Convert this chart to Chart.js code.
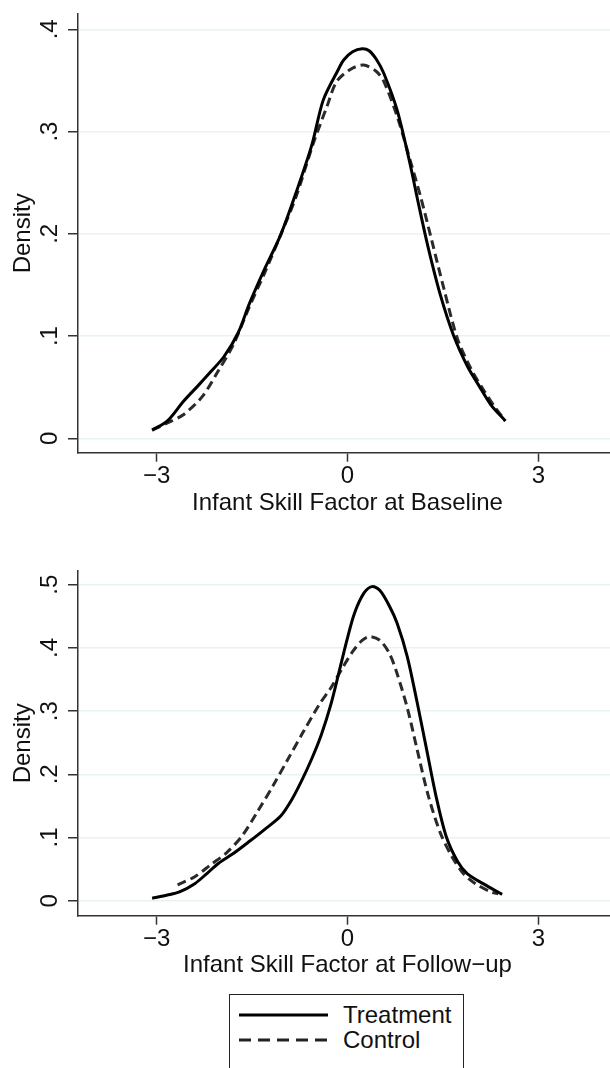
<!DOCTYPE html>
<html>
<head>
<meta charset="utf-8">
<script src="https://cdn.jsdelivr.net/npm/chart.js@4.4.0/dist/chart.umd.min.js"></script>
<style>
    body { margin: 0; background: #fff; width: 610px; height: 1068px; overflow: hidden; position: relative; font-family: "Liberation Sans", Arial, sans-serif; }
    #c1 { position: absolute; left: 0; top: 0; }
    #c2 { position: absolute; left: 0; top: 540px; }
    .legend-box { position: absolute; left: 229px; top: 994px; width: 235px; height: 110px; border: 1.5px solid #222; box-sizing: border-box; }
    .legend-item { position: absolute; left: 343px; font-size: 24px; line-height: 24px; color: #111; }
    .legend-line { position: absolute; left: 239px; }
</style>
</head>
<body>
<canvas id="c1" width="617" height="530"></canvas>
<canvas id="c2" width="617" height="450"></canvas>

<div class="legend-box"></div>
<svg class="legend-line" style="top:1010px" width="90" height="10"><line x1="0" y1="5" x2="89" y2="5" stroke="#000" stroke-width="3"/></svg>
<div class="legend-item" style="top:1003px">Treatment</div>
<svg class="legend-line" style="top:1035px" width="90" height="10"><line x1="0" y1="5" x2="89" y2="5" stroke="#222" stroke-width="3" stroke-dasharray="12 7"/></svg>
<div class="legend-item" style="top:1028px">Control</div>

<script>
// x ticks shared by both panels
const xTickValues = [-3, 0, 3];
const xTickLabels = ['\u22123', '0', '3'];

const yTicksTop = [0, 0.1, 0.2, 0.3, 0.4];
const yLabelsTop = ['0', '.1', '.2', '.3', '.4'];
const yTicksBottom = [0, 0.1, 0.2, 0.3, 0.4, 0.5];
const yLabelsBottom = ['0', '.1', '.2', '.3', '.4', '.5'];

// baseline panel
const baseTreatX = [-3.07, -2.83, -2.58, -2.34, -2.15, -1.94, -1.72, -1.54, -1.30, -1.05, -0.81, -0.56, -0.38, -0.15, -0.06, 0.08, 0.23, 0.34, 0.46, 0.57, 0.78, 0.97, 1.12, 1.27, 1.46, 1.67, 1.88, 2.07, 2.25, 2.48];
const baseTreatY = [0.008, 0.017, 0.036, 0.052, 0.065, 0.080, 0.103, 0.132, 0.166, 0.199, 0.240, 0.287, 0.331, 0.360, 0.370, 0.378, 0.381, 0.379, 0.370, 0.357, 0.321, 0.272, 0.228, 0.186, 0.140, 0.100, 0.071, 0.051, 0.033, 0.017];

const baseCtrlX = [-3.07, -2.83, -2.58, -2.28, -2.03, -1.79, -1.54, -1.30, -1.05, -0.81, -0.54, -0.32, -0.17, 0.05, 0.25, 0.45, 0.57, 0.78, 0.97, 1.15, 1.33, 1.52, 1.73, 1.94, 2.13, 2.31, 2.48];
const baseCtrlY = [0.008, 0.015, 0.023, 0.041, 0.066, 0.092, 0.129, 0.162, 0.199, 0.236, 0.288, 0.325, 0.349, 0.361, 0.365, 0.359, 0.349, 0.315, 0.275, 0.236, 0.192, 0.145, 0.097, 0.068, 0.048, 0.031, 0.017];

// follow-up panel
const fuTreatX = [-3.07, -2.83, -2.64, -2.40, -2.21, -2.03, -1.79, -1.54, -1.30, -1.05, -0.87, -0.72, -0.56, -0.41, -0.26, -0.14, -0.01, 0.11, 0.26, 0.385, 0.51, 0.66, 0.78, 0.94, 1.09, 1.24, 1.39, 1.55, 1.73, 1.88, 2.13, 2.43];
const fuTreatY = [0.004, 0.009, 0.014, 0.027, 0.043, 0.059, 0.075, 0.094, 0.113, 0.134, 0.161, 0.190, 0.225, 0.263, 0.311, 0.359, 0.412, 0.455, 0.487, 0.497, 0.491, 0.466, 0.439, 0.386, 0.316, 0.241, 0.166, 0.102, 0.062, 0.043, 0.027, 0.010];

const fuCtrlX = [-2.67, -2.40, -2.15, -1.91, -1.66, -1.42, -1.17, -0.93, -0.69, -0.44, -0.26, -0.07, 0.08, 0.23, 0.355, 0.51, 0.66, 0.78, 0.94, 1.09, 1.27, 1.46, 1.64, 1.82, 2.01, 2.25, 2.37];
const fuCtrlY = [0.025, 0.038, 0.057, 0.075, 0.102, 0.140, 0.182, 0.225, 0.268, 0.311, 0.337, 0.370, 0.394, 0.412, 0.418, 0.412, 0.391, 0.359, 0.305, 0.241, 0.166, 0.107, 0.070, 0.043, 0.027, 0.014, 0.011];

const FONT = '"Liberation Sans", Arial, sans-serif';
const axisColor = '#333';
const gridColor = 'rgb(232, 241, 243)';

function toPoints(xs, ys) {
    return xs.map((x, i) => ({ x: x, y: ys[i] }));
}

function makeChart(id, cfg) {
    const ctx = document.getElementById(id).getContext('2d');
    return new Chart(ctx, {
        type: 'scatter',
        data: {
            datasets: [
                {
                    label: 'Treatment',
                    data: toPoints(cfg.treatX, cfg.treatY),
                    showLine: true,
                    borderColor: '#000',
                    borderWidth: 3,
                    pointRadius: 0,
                    tension: 0.3
                },
                {
                    label: 'Control',
                    data: toPoints(cfg.ctrlX, cfg.ctrlY),
                    showLine: true,
                    borderColor: '#2a2a2a',
                    borderWidth: 3,
                    borderDash: [9, 5],
                    pointRadius: 0,
                    tension: 0.3
                }
            ]
        },
        options: {
            responsive: false,
            animation: false,
            layout: { padding: { top: cfg.padTop, right: 0, bottom: 0, left: 0 } },
            plugins: { legend: { display: false }, tooltip: { enabled: false } },
            scales: {
                x: {
                    type: 'linear',
                    min: -4.235,
                    max: 4.235,
                    afterBuildTicks: s => { s.ticks = xTickValues.map(v => ({ value: v })); },
                    afterFit: s => { s.height = cfg.xHeight; s.paddingLeft = 0; s.paddingRight = 0; },
                    ticks: {
                        callback: (v, i) => xTickLabels[i],
                        color: '#111',
                        padding: 0,
                        maxRotation: 0,
                        font: { family: FONT, size: 24 }
                    },
                    grid: { drawOnChartArea: false, drawTicks: true, tickLength: 9, tickColor: axisColor, tickWidth: 1.5 },
                    border: { display: true, color: axisColor, width: 1.5 },
                    title: {
                        display: true,
                        text: cfg.xTitle,
                        color: '#111',
                        padding: { top: 0, bottom: cfg.titlePad },
                        font: { family: FONT, size: 24 }
                    }
                },
                y: {
                    type: 'linear',
                    min: cfg.yMin,
                    max: cfg.yMax,
                    afterBuildTicks: s => { s.ticks = cfg.yTicks.map(v => ({ value: v })); },
                    afterFit: s => { s.width = 78; s.paddingTop = 0; s.paddingBottom = 0; },
                    ticks: {
                        callback: (v, i) => cfg.yLabels[i],
                        color: '#111',
                        padding: 8,
                        minRotation: 90,
                        maxRotation: 90,
                        crossAlign: 'center',
                        font: { family: FONT, size: 24 }
                    },
                    grid: { color: gridColor, lineWidth: 1.5, drawTicks: true, tickLength: 10, tickColor: axisColor, tickWidth: 1.5 },
                    border: { display: true, color: axisColor, width: 1.5 },
                    title: {
                        display: true,
                        text: 'Density',
                        color: '#111',
                        padding: { top: 9, bottom: 0 },
                        font: { family: FONT, size: 24 }
                    }
                }
            }
        }
    });
}

makeChart('c1', {
    treatX: baseTreatX, treatY: baseTreatY,
    ctrlX: baseCtrlX, ctrlY: baseCtrlY,
    yMin: -0.0141, yMax: 0.415,
    yTicks: yTicksTop, yLabels: yLabelsTop,
    padTop: 14, xHeight: 77.3, titlePad: 12,
    xTitle: 'Infant Skill Factor at Baseline'
});

makeChart('c2', {
    treatX: fuTreatX, treatY: fuTreatY,
    ctrlX: fuCtrlX, ctrlY: fuCtrlY,
    yMin: -0.0237, yMax: 0.5217,
    yTicks: yTicksBottom, yLabels: yLabelsBottom,
    padTop: 31, xHeight: 74.3, titlePad: 10,
    xTitle: 'Infant Skill Factor at Follow\u2212up'
});
</script>
</body>
</html>
